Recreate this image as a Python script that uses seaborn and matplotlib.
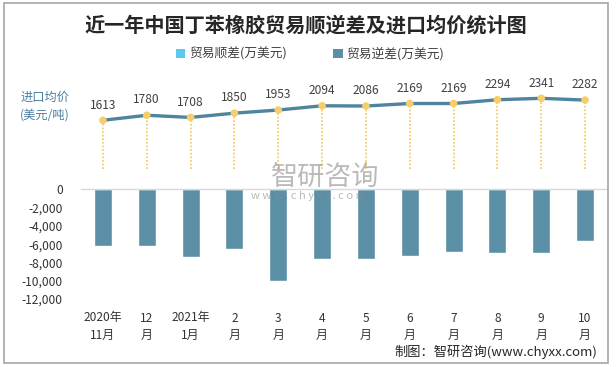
import matplotlib
matplotlib.use("Agg")
import matplotlib.pyplot as plt
import seaborn as sns
import pandas as pd
from matplotlib.patches import Patch, Rectangle

months = ["2020年\n11月", "12\n月", "2021年\n1月", "2\n月", "3\n月", "4\n月",
          "5\n月", "6\n月", "7\n月", "8\n月", "9\n月", "10\n月"]
surplus = [0, 0, 0, 0, 0, 0, 0, 0, 0, 0, 0, 0]
deficit = [-6160, -6160, -7360, -6490, -9990, -7580, -7620, -7250, -6810, -6920, -6920, -5610]
avg_price = [1613, 1780, 1708, 1850, 1953, 2094, 2086, 2169, 2169, 2294, 2341, 2282]
yticks = [0, -2000, -4000, -6000, -8000, -10000, -12000]

sns.set_theme(style="white")
plt.rcParams['font.family'] = ['Noto Sans CJK SC', 'DejaVu Sans']

W, H = 616, 367
fig = plt.figure(figsize=(W / 100, H / 100), dpi=100)

def fx(px):
    return px / W

def fy(py):
    return 1 - py / H

BAR = "#5b8fa6"
LINE = "#4f84a0"
GOLD = "#f7cd6b"

df = pd.DataFrame({"month": months, "deficit": deficit, "surplus": surplus, "price": avg_price})

# lower axes (bars)
left, right = 81, 607
ax = fig.add_axes([fx(left), fy(299), fx(right - left), (299 - 189.3) / H])
sns.barplot(data=df, x="month", y="deficit", color=BAR, width=0.41, ax=ax, saturation=1)
ax.set_ylim(-12000, 0)
ax.set_xlim(-0.5, len(months) - 0.5)
ax.set_yticks(yticks)
ax.set_yticklabels([f"{v:,}" for v in yticks])
ax.set_xlabel("")
ax.set_ylabel("")
for s in ["left", "right", "bottom"]:
    ax.spines[s].set_visible(False)
ax.spines["top"].set_color("#d9d9d9")
ax.spines["top"].set_linewidth(1.0)
ax.tick_params(axis="y", length=0, pad=13, labelsize=8.6, labelcolor="#333333")
ax.tick_params(axis="x", length=0, pad=9, labelsize=8.6, labelcolor="#333333")
for t in ax.get_xticklabels():
    t.set_linespacing(1.45)
ax.patch.set_alpha(0)

# upper axes (line)
ax2 = fig.add_axes([fx(left), fy(169), fx(right - left), 108.7 / H])
ax2.set_xlim(-0.5, len(months) - 0.5)
ax2.set_ylim(0, 3600)
xs = list(range(len(months)))
ax2.vlines(xs, 0, avg_price, colors=GOLD, linestyles=(0, (1, 1)), linewidth=1.3, zorder=1)
sns.lineplot(x=xs, y=avg_price, color=LINE, linewidth=2.4, ax=ax2, zorder=2)
sns.scatterplot(x=xs, y=avg_price, color=GOLD, s=30, edgecolor="none", ax=ax2, zorder=3)
for x, v in zip(xs, avg_price):
    ax2.annotate(f"{v}", (x, v), xytext=(0, 11), textcoords="offset points",
                 ha="center", va="center", fontsize=8.6, color="#404040")
ax2.axis("off")
ax2.patch.set_alpha(0)

# y label for price
fig.text(fx(45), fy(106), "进口均价\n(美元/吨)", ha="center", va="center",
         fontsize=8.8, color="#4a7ea0", linespacing=1.45)

# title
fig.text(fx(306), fy(25), "近一年中国丁苯橡胶贸易顺逆差及进口均价统计图", ha="center", va="center",
         fontsize=14.5, fontweight="bold", color="#262626")

# legend
handles = [Patch(facecolor="#5bc8f0", edgecolor="none", label="贸易顺差(万美元)"),
           Patch(facecolor=BAR, edgecolor="none", label="贸易逆差(万美元)")]
fig.legend(handles=handles, loc="center", bbox_to_anchor=(fx(310), fy(54)), ncol=2,
           frameon=False, fontsize=9.2, handlelength=0.75, handleheight=0.75,
           handletextpad=0.3, columnspacing=3.6, labelcolor="#404040")

# watermark
fig.text(fx(325), fy(177), "智研咨询", ha="center", va="center", fontsize=19.5,
         color="#8c8c8c", alpha=0.6)
fig.text(fx(308), fy(196), "w w w . c h y x x . c o m", ha="center", va="center",
         fontsize=8, color="#8c8c8c", alpha=0.6)

# source
fig.text(fx(597), fy(352), "制图：智研咨询(www.chyxx.com)", ha="right", va="center",
         fontsize=9.5, color="#262626")

# border
fig.patches.append(Rectangle((fx(4), fy(363)), fx(604), (363 - 3) / H, transform=fig.transFigure,
                             fill=False, edgecolor="#a6a6a6", linewidth=1.2))

fig.savefig("out.png", dpi=100)
